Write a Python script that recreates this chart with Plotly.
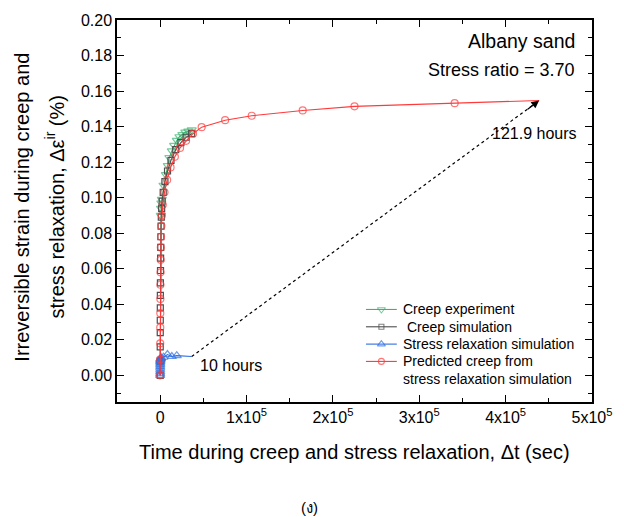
import plotly.graph_objects as go

# ---- data ----
creep_exp_t = [0, 50, 100, 200, 300, 500, 700, 1000, 1300, 1960, 3800, 6570, 8870, 10700,
               13480, 16130, 19300, 22240, 25700, 29150, 32600, 36500]
creep_exp_s = [0.0, 0.02, 0.04, 0.06, 0.075, 0.085, 0.090, 0.094, 0.097, 0.099, 0.107, 0.113,
               0.118, 0.1226, 0.1263, 0.1294, 0.1322, 0.1343, 0.1355, 0.1369, 0.1374, 0.1382]

creep_sim_t = [0, 20, 40, 70, 100, 150, 200, 280, 380, 500, 650, 800, 1000, 1300, 1700,
               2300, 3500, 5500, 8500, 12500, 18000, 24000, 30000, 36500]
creep_sim_s = [0.0, 0.008, 0.016, 0.024, 0.031, 0.038, 0.045, 0.052, 0.059, 0.066, 0.072,
               0.078, 0.084, 0.089, 0.094, 0.098, 0.103, 0.109, 0.115, 0.121, 0.127, 0.131,
               0.134, 0.136]

relax_t = [0, 10, 20, 30, 45, 60, 80, 100, 130, 170, 220, 300, 450, 700, 1200,
           3800, 8400, 13500, 19200, 36500]
relax_s = [0.0, 0.001, 0.002, 0.003, 0.004, 0.005, 0.006, 0.0068, 0.0075, 0.008, 0.0085,
           0.009, 0.0093, 0.0096, 0.0099, 0.0102, 0.0117, 0.0106, 0.0111, 0.0106]

pred_t = [0, 30, 60, 100, 150, 220, 300, 420, 560, 750, 1000, 1400, 2000, 3000, 5000,
          8000, 12000, 17000, 23000, 30000, 38000, 48000, 75200, 106000, 165000, 225000,
          341000, 438840]
pred_s = [0.0, 0.009, 0.018, 0.027, 0.035, 0.043, 0.051, 0.058, 0.065, 0.072, 0.078, 0.084,
          0.090, 0.096, 0.103, 0.110, 0.117, 0.123, 0.128, 0.132, 0.136, 0.1397, 0.1436,
          0.1461, 0.1491, 0.1514, 0.1532, 0.1547]

x_tickvals = [0, 100000, 200000, 300000, 400000, 500000]
x_ticktext = ["0", "1x10<sup>5</sup>", "2x10<sup>5</sup>", "3x10<sup>5</sup>",
              "4x10<sup>5</sup>", "5x10<sup>5</sup>"]

legend_labels = ["Creep experiment", " Creep simulation", "Stress relaxation simulation",
                 "Predicted creep from<br>stress relaxation simulation"]

FONT = "Arial, 'Liberation Sans', sans-serif"
GREEN = "#3cb371"
GRAY = "#4d4d4d"
BLUE = "#2f6fe0"
RED = "#ff3a3a"

styles = [
    dict(color=GREEN, symbol="triangle-down-open", size=8),
    dict(color=GRAY, symbol="square-open", size=6),
    dict(color=BLUE, symbol="triangle-up-open", size=8),
    dict(color=RED, symbol="circle-open", size=7),
]

fig = go.Figure()

series = [
    (creep_exp_t, creep_exp_s, [styles[0]["size"] if s >= 0.088 else 0 for s in creep_exp_s]),
    (creep_sim_t, creep_sim_s, styles[1]["size"]),
    (relax_t, relax_s, [styles[2]["size"]] * (len(relax_t) - 1) + [0]),
    (pred_t, pred_s, [styles[3]["size"]] * (len(pred_t) - 1) + [0]),
]
for (t, s, sz), st in zip(series, styles):
    fig.add_trace(go.Scatter(
        x=t, y=s, mode="lines+markers", showlegend=False,
        line=dict(color=st["color"], width=1.1),
        marker=dict(symbol=st["symbol"], color=st["color"], size=sz, line=dict(width=1.2)),
    ))

# dotted connector between end of relaxation (10 h) and end of prediction (121.9 h)
fig.add_trace(go.Scatter(
    x=[relax_t[-1], pred_t[-1]], y=[relax_s[-1], pred_s[-1]], mode="lines",
    line=dict(color="black", width=1.2, dash="dot"), showlegend=False, hoverinfo="skip",
))
fig.add_annotation(x=pred_t[-1], y=pred_s[-1], xref="x", yref="y", ax=-13, ay=10,
                   text="", showarrow=True, arrowhead=2, arrowsize=1.3, arrowwidth=1.2,
                   arrowcolor="black")

fig.add_annotation(x=relax_t[-1], y=relax_s[-1], xref="x", yref="y", text="10 hours",
                   showarrow=False, xanchor="left", yanchor="middle", xshift=6, yshift=-9,
                   font=dict(family=FONT, size=16, color="black"))
fig.add_annotation(x=1.0, y=pred_s[-1], xref="paper", yref="y", text="121.9 hours",
                   showarrow=False, xanchor="right", yanchor="middle", xshift=-13, yshift=-33,
                   font=dict(family=FONT, size=16, color="black"))

fig.add_annotation(x=0.968, y=0.945, xref="paper", yref="paper", text="Albany sand",
                   showarrow=False, xanchor="right", yanchor="middle",
                   font=dict(family=FONT, size=19.5, color="black"))
fig.add_annotation(x=0.968, y=0.869, xref="paper", yref="paper", text="Stress ratio = 3.70",
                   showarrow=False, xanchor="right", yanchor="middle",
                   font=dict(family=FONT, size=18, color="black"))

# axis titles
fig.add_annotation(x=-0.199, y=0.51, xref="paper", yref="paper",
                   text="Irreversible strain during creep and", textangle=-90,
                   showarrow=False, xanchor="center", yanchor="middle",
                   font=dict(family=FONT, size=20, color="black"))
fig.add_annotation(x=-0.132, y=0.51, xref="paper", yref="paper",
                   text="stress relaxation, \u0394\u03b5<sup>ir</sup> (%)", textangle=-90,
                   showarrow=False, xanchor="center", yanchor="middle",
                   font=dict(family=FONT, size=20, color="black"))
fig.add_annotation(x=0.5, y=-0.132, xref="paper", yref="paper",
                   text="Time during creep and stress relaxation, \u0394t (sec)",
                   showarrow=False, xanchor="center", yanchor="middle",
                   font=dict(family=FONT, size=20, color="black"))
fig.add_annotation(x=0.406, y=-0.276, xref="paper", yref="paper", text="(\u0e07)",
                   showarrow=False, xanchor="center", yanchor="middle",
                   font=dict(family=FONT, size=15, color="black"))

# ---- custom legend drawn on a hidden overlay axis measured in pixels ----
PLOT_L, PLOT_R, PLOT_T, PLOT_B = 117, 594, 16, 402
leg_rows = [308.5, 326, 343.5, 361]
leg_sample = (367, 382.5, 398)
leg_text_x = 402
for row, st, label in zip(leg_rows, styles, legend_labels):
    fig.add_trace(go.Scatter(
        x=list(leg_sample), y=[row] * 3, xaxis="x2", yaxis="y2",
        mode="lines+markers", showlegend=False, hoverinfo="skip",
        line=dict(color=st["color"], width=1.1),
        marker=dict(symbol=st["symbol"], color=st["color"], size=[0, st["size"] - 1, 0],
                    line=dict(width=1.1)),
    ))
    fig.add_annotation(x=leg_text_x, y=row, xref="x2", yref="y2", text=label,
                       showarrow=False, xanchor="left", yanchor="top" if "<br>" in label else "middle",
                       yshift=10 if "<br>" in label else 0, align="left",
                       font=dict(family=FONT, size=14, color="black"))

axis_common = dict(
    showline=True, linecolor="black", linewidth=1.5, mirror="allticks",
    ticks="inside", ticklen=7, tickwidth=1.2, tickcolor="black",
    showgrid=False, zeroline=False,
    tickfont=dict(family=FONT, size=16, color="black"),
)

fig.update_xaxes(range=[-50000, 500000], tickvals=x_tickvals, ticktext=x_ticktext,
                 minor=dict(ticks="inside", ticklen=4, dtick=50000, tick0=0,
                            tickcolor="black", showgrid=False),
                 **axis_common)
fig.update_yaxes(range=[-0.015, 0.20], tick0=0, dtick=0.02, tickformat=".2f",
                 minor=dict(ticks="inside", ticklen=4, dtick=0.01, tick0=0,
                            tickcolor="black", showgrid=False),
                 **axis_common)

fig.update_layout(
    width=624, height=517,
    margin=dict(l=PLOT_L, r=624 - PLOT_R, t=PLOT_T, b=517 - PLOT_B),
    paper_bgcolor="white", plot_bgcolor="white",
    font=dict(family=FONT, color="black"),
    showlegend=False,
    xaxis2=dict(overlaying="x", range=[PLOT_L, PLOT_R], visible=False, fixedrange=True),
    yaxis2=dict(overlaying="y", range=[PLOT_B, PLOT_T], visible=False, fixedrange=True),
)

fig.write_html("out.html")
